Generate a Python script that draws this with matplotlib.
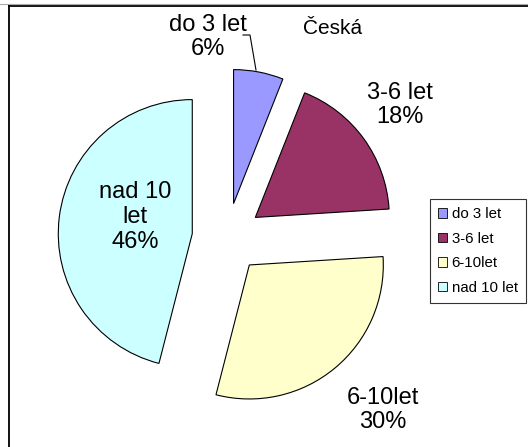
import matplotlib
matplotlib.use("Agg")
import matplotlib.pyplot as plt
from matplotlib.lines import Line2D

categories = ["do 3 let", "3-6 let", "6-10let", "nad 10 let"]
values = [6, 18, 30, 46]
slice_labels = ["do 3 let\n6%", "3-6 let\n18%", "6-10let\n30%", "nad 10\nlet\n46%"]
colors = ["#9999FF", "#993366", "#FFFFCC", "#CCFFFF"]
title = "Česká"

plt.rcParams['font.family'] = ['Liberation Sans', 'DejaVu Sans']

W, H = 528, 447
fig = plt.figure(figsize=(W / 100, H / 100), dpi=100)
ax = fig.add_axes([0, 0, 1, 1])

cx, cy, R = 227, H - 238, 134
wedges, _ = ax.pie(values, colors=colors, startangle=90, counterclock=False,
                   radius=R, center=(cx, cy), explode=[35] * 4,
                   wedgeprops=dict(edgecolor='black', linewidth=0.8),
                   frame=True)
ax.set_xlim(0, W)
ax.set_ylim(0, H)
ax.set_aspect('equal')
ax.axis('off')

fs = 17
ax.text(208, H - 37, slice_labels[0], ha='center', va='center', fontsize=fs, linespacing=1.15)
ax.text(400, H - 105, slice_labels[1], ha='center', va='center', fontsize=fs, linespacing=1.15)
ax.text(383, H - 410, slice_labels[2], ha='center', va='center', fontsize=fs, linespacing=1.15)
ax.text(135, H - 217, slice_labels[3], ha='center', va='center', fontsize=fs, linespacing=1.15)
ax.text(333, H - 29, title, ha='center', va='center', fontsize=15)

# leader line for smallest slice
ax.plot([243, 250, 256], [H - 35, H - 35, H - 70], color='black', lw=0.8)

# outer border drawn in axes data coordinates (= pixels)
ax.plot([8.5, W + 5], [H - 5.5, H - 5.5], color='black', lw=1.3, clip_on=False,
        solid_capstyle='projecting')
ax.plot([0, W + 5], [H - 3.8, H - 3.8], color='#aaaaaa', lw=0.8, clip_on=False)
ax.plot([8.5, 8.5], [-5, H - 5.5], color='black', lw=1.3, clip_on=False,
        solid_capstyle='projecting')

leg = fig.legend(wedges, categories, loc='upper left', bbox_to_anchor=(430 / W, 1 - 199 / H),
                 fontsize=10.8, frameon=True, fancybox=False, edgecolor='black',
                 handlelength=0.6, handleheight=0.6, handletextpad=0.3,
                 labelspacing=0.7, borderpad=0.55, borderaxespad=0)
leg.get_frame().set_linewidth(0.8)
for h in leg.legend_handles:
    h.set_edgecolor('black')
    h.set_linewidth(0.6)

fig.savefig("out.png", dpi=100)
